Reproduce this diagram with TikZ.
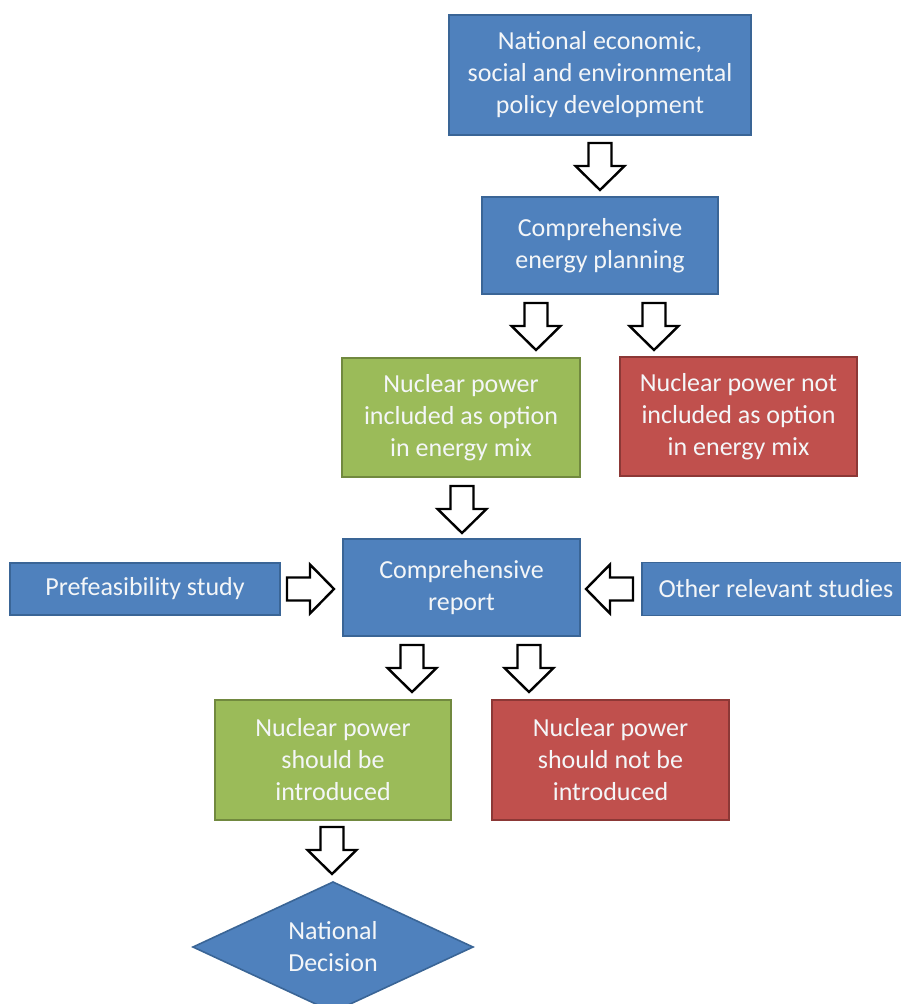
\documentclass[tikz,border=0pt]{standalone}
\usepackage{fontspec}
\setmainfont{Carlito}
\definecolor{bfill}{HTML}{4F81BD}
\definecolor{bdraw}{HTML}{3A6596}
\definecolor{gfill}{HTML}{9BBB59}
\definecolor{gdraw}{HTML}{71893F}
\definecolor{rfill}{HTML}{C0504D}
\definecolor{rdraw}{HTML}{8C3836}
\definecolor{txt}{HTML}{F4F6F8}
\begin{document}
\begin{tikzpicture}[x=1pt,y=-1pt,
  box/.style={rectangle, line width=1.6pt, inner sep=0pt, align=center, text=txt,
    font=\fontsize{26pt}{32pt}\selectfont},
  bluebox/.style={box, fill=bfill, draw=bdraw},
  greenbox/.style={box, fill=gfill, draw=gdraw},
  redbox/.style={box, fill=rfill, draw=rdraw},
  blockarrow/.style={draw=black, fill=white, line width=2.4pt, line join=miter},
  downarrow/.pic={\draw[blockarrow] (-11.5,0) -- (-11.5,23) -- (-24.5,23) -- (0,47) -- (24.5,23) -- (11.5,23) -- (11.5,0) -- cycle;},
  rightarrow/.pic={\draw[blockarrow] (0,-11.5) -- (23,-11.5) -- (23,-24.5) -- (47,0) -- (23,24.5) -- (23,11.5) -- (0,11.5) -- cycle;},
  leftarrow/.pic={\draw[blockarrow] (0,-11.5) -- (-23,-11.5) -- (-23,-24.5) -- (-47,0) -- (-23,24.5) -- (-23,11.5) -- (0,11.5) -- cycle;}
]
\useasboundingbox (0,0) rectangle (901,1004);
\clip (0,0) rectangle (901,1004);

% boxes
\node[bluebox, minimum width=302pt, minimum height=120pt] (policy) at (600,75)
  {National economic,\\social and environmental\\policy development};
\node[bluebox, minimum width=236pt, minimum height=97pt] (planning) at (600,245.5)
  {Comprehensive\\energy planning};
\node[greenbox, minimum width=238pt, minimum height=119pt] (incl) at (461,417.5)
  {Nuclear power\\included as option\\in energy mix};
\node[redbox, minimum width=237pt, minimum height=119pt] (notincl) at (738.5,416.5)
  {Nuclear power not\\included as option\\in energy mix};
\node[bluebox, minimum width=237pt, minimum height=97pt] (report) at (461.5,587.5)
  {Comprehensive\\report};
\node[bluebox, minimum width=270pt, minimum height=52pt] (prefeas) at (145,589)
  {Prefeasibility study};
\node[bluebox, minimum width=268pt, minimum height=53pt] (other) at (776,589)
  {Other relevant studies};
\node[greenbox, minimum width=236pt, minimum height=120pt] (should) at (333,760)
  {Nuclear power\\should be\\introduced};
\node[redbox, minimum width=237pt, minimum height=120pt] (shouldnot) at (610.5,760)
  {Nuclear power\\should not be\\introduced};

% diamond
\coordinate (dc) at (333,947);
\draw[fill=bfill, draw=bdraw, line width=1.6pt] (dc) ++(-140,0) -- ++(140,-65) -- ++(140,65) -- ++(-140,65) -- cycle;
\node[box, draw=none] (decision) at (dc) {National\\Decision};

% block arrows
\coordinate (a1) at (600,143);
\coordinate (a2) at (536,303);
\coordinate (a3) at (654,303);
\coordinate (a4) at (462,486);
\coordinate (a5) at (287,589);
\coordinate (a6) at (633,589);
\coordinate (a7) at (412,645);
\coordinate (a8) at (529,645);
\coordinate (a9) at (332,827);
\pic at (a1) {downarrow};
\pic at (a2) {downarrow};
\pic at (a3) {downarrow};
\pic at (a4) {downarrow};
\pic at (a5) {rightarrow};
\pic at (a6) {leftarrow};
\pic at (a7) {downarrow};
\pic at (a8) {downarrow};
\pic at (a9) {downarrow};
\end{tikzpicture}
\end{document}
